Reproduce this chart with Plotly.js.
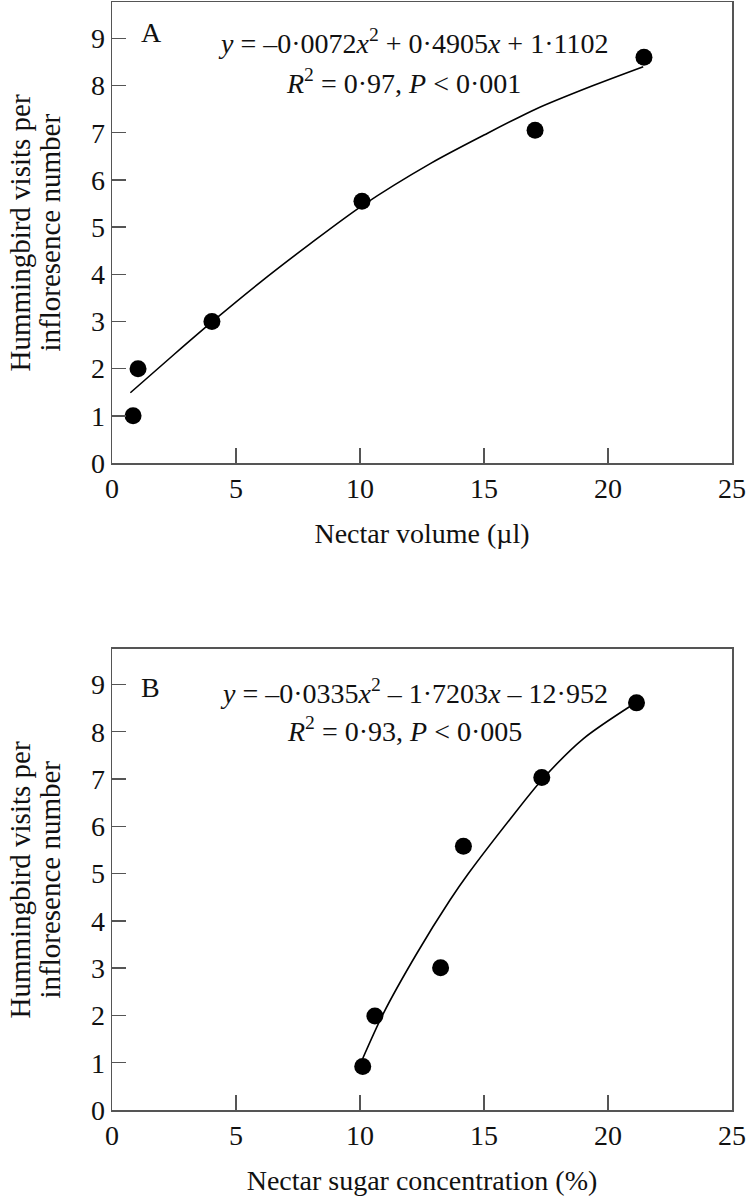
<!DOCTYPE html>
<html>
<head>
<meta charset="utf-8">
<script src="https://cdn.plot.ly/plotly-3.0.1.min.js"></script>
<style>html,body{margin:0;padding:0;background:#fff;}#chart{width:756px;height:1200px;}</style>
</head>
<body>
<div id="chart"></div>
<script>
// Panel A: nectar volume
const volX = [0.85, 1.05, 4.03, 10.08, 17.06, 21.45];
const volY = [1.0, 2.0, 3.0, 5.55, 7.05, 8.6];
const volCurveX = [0.74, 2.5, 4.03, 6.0, 8.0, 10.08, 12.85, 15.0, 17.12, 19.3, 21.42];
const volCurveY = [1.49, 2.30, 2.99, 3.84, 4.65, 5.45, 6.35, 6.95, 7.51, 7.98, 8.40];

// Panel B: nectar sugar concentration
const sugX = [10.11, 10.6, 13.25, 14.17, 17.33, 21.15];
const sugY = [0.92, 1.99, 3.01, 5.58, 7.03, 8.61];
const sugCurveX = [10.11, 10.94, 12.29, 13.63, 14.37, 16.05, 17.33, 19.0, 20.96];
const sugCurveY = [1.09, 2.04, 3.31, 4.44, 5.0, 6.15, 6.98, 7.85, 8.56];

const xTicks = [0, 5, 10, 15, 20, 25];
const yTicks = [0, 1, 2, 3, 4, 5, 6, 7, 8, 9];

const xTitleA = 'Nectar volume (\u00b5l)';
const xTitleB = 'Nectar sugar concentration (%)';
const yTitle1 = 'Hummingbird visits per';
const yTitle2 = 'infloresence number';
const eqA1 = '<i>y</i> = \u20130\u00b70072<i>x</i><sup>2</sup> + 0\u00b74905<i>x</i> + 1\u00b71102';
const eqA2 = '<i>R</i><sup>2</sup> = 0\u00b797, <i>P</i> &lt; 0\u00b7001';
const eqB1 = '<i>y</i> = \u20130\u00b70335<i>x</i><sup>2</sup> \u2013 1\u00b77203<i>x</i> \u2013 12\u00b7952';
const eqB2 = '<i>R</i><sup>2</sup> = 0\u00b793, <i>P</i> &lt; 0\u00b7005';

const FONT = 'Liberation Serif, Times New Roman, serif';
const AX = '#555';

function ptTrace(x, y, xa, ya) {
  return {x: x, y: y, xaxis: xa, yaxis: ya, type: 'scatter', mode: 'markers',
    marker: {size: 17, color: '#000'}, showlegend: false, hoverinfo: 'x+y'};
}
function lineTrace(x, y, xa, ya) {
  return {x: x, y: y, xaxis: xa, yaxis: ya, type: 'scatter', mode: 'lines',
    line: {color: '#000', width: 1.6, shape: 'spline', smoothing: 0.8}, showlegend: false, hoverinfo: 'skip'};
}

const data = [
  lineTrace(volCurveX, volCurveY, 'x', 'y'),
  ptTrace(volX, volY, 'x', 'y'),
  lineTrace(sugCurveX, sugCurveY, 'x2', 'y2'),
  ptTrace(sugX, sugY, 'x2', 'y2')
];

function xAxis(anchor, title) {
  return {anchor: anchor, domain: [0, 1], range: [0, 25], tickvals: xTicks, ticktext: xTicks.map(String),
    ticks: 'inside', ticklen: 15, tickwidth: 1.5, tickcolor: AX,
    showline: true, linecolor: AX, linewidth: 1.5, mirror: true,
    showgrid: false, zeroline: false, fixedrange: true,
    tickfont: {family: FONT, size: 28, color: '#111'},
    title: {text: title, font: {family: FONT, size: 28, color: '#111'}, standoff: 20}};
}
function yAxis(anchor, domain, top) {
  return {anchor: anchor, domain: domain, range: [0, top], tickvals: yTicks, ticktext: yTicks.map(String),
    ticks: 'inside', ticklen: 14, tickwidth: 1.5, tickcolor: AX,
    showline: true, linecolor: AX, linewidth: 1.5, mirror: true,
    showgrid: false, zeroline: false, fixedrange: true,
    tickfont: {family: FONT, size: 28, color: '#111'}};
}

function ann(text, x, y, opts) {
  return Object.assign({text: text, x: x, y: y, xref: 'paper', yref: 'paper',
    xanchor: 'center', yanchor: 'middle', showarrow: false,
    font: {family: FONT, size: 28, color: '#111'}}, opts || {});
}
const TF = {family: FONT, size: 29, color: '#111'};

const layout = {
  width: 756, height: 1200,
  margin: {l: 112, r: 24, t: 2, b: 90},
  paper_bgcolor: '#fff', plot_bgcolor: '#fff',
  showlegend: false,
  xaxis: xAxis('y', xTitleA),
  yaxis: yAxis('x', [0.5839, 1], 9.77),
  xaxis2: xAxis('y2', xTitleB),
  yaxis2: yAxis('x2', [0, 0.4161], 9.75),
  annotations: [
    ann('A', 0.0645, 0.9729),
    ann(eqA1, 0.4855, 0.9639),
    ann(eqA2, 0.4694, 0.9278),
    ann('B', 0.0629, 0.3809),
    ann(eqB1, 0.4871, 0.3773),
    ann(eqB2, 0.4710, 0.3430),
    ann(yTitle1, -0.1484, 0.792, {textangle: -90, font: TF}),
    ann(yTitle2, -0.100, 0.792, {textangle: -90, font: TF}),
    ann(yTitle1, -0.1484, 0.208, {textangle: -90, font: TF}),
    ann(yTitle2, -0.100, 0.208, {textangle: -90, font: TF})
  ]
};

Plotly.newPlot('chart', data, layout, {displayModeBar: false, staticPlot: true});
</script>
</body>
</html>
